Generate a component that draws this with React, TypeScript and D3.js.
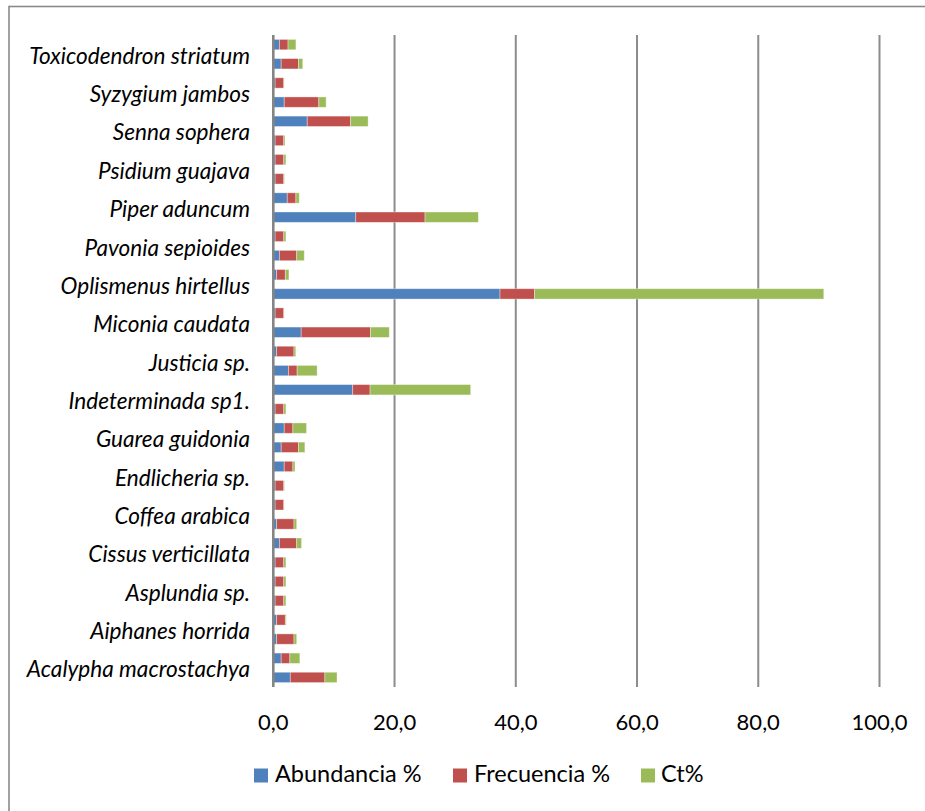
import React from "react";
import * as d3 from "d3";

// Categories bottom -> top (Excel order); only every other one is labelled
const categories: string[] = [
  "Acalypha macrostachya", "", "Aiphanes horrida", "", "Asplundia sp.", "",
  "Cissus verticillata", "", "Coffea arabica", "", "Endlicheria sp.", "",
  "Guarea guidonia", "", "Indeterminada sp1.", "", "Justicia sp.", "",
  "Miconia caudata", "", "Oplismenus hirtellus", "", "Pavonia sepioides", "",
  "Piper aduncum", "", "Psidium guajava", "", "Senna sophera", "",
  "Syzygium jambos", "", "Toxicodendron striatum", "",
];

const abundancia: number[] = [
  2.8, 1.3, 0.55, 0.55, 0.3, 0.3, 0.3, 1.0, 0.55, 0.3, 0.3, 1.8,
  1.3, 1.8, 0.3, 13.1, 2.5, 0.55, 4.6, 0.3, 37.4, 0.55, 1.0, 0.3,
  13.6, 2.3, 0.3, 0.3, 0.3, 5.6, 1.8, 0.3, 1.3, 1.0,
];
const frecuencia: number[] = [
  5.71, 1.43, 2.86, 1.43, 1.43, 1.43, 1.43, 2.86, 2.86, 1.43, 1.43, 1.43,
  2.86, 1.43, 1.43, 2.86, 1.43, 2.86, 11.43, 1.43, 5.71, 1.43, 2.86, 1.43,
  11.43, 1.43, 1.43, 1.43, 1.43, 7.14, 5.71, 1.43, 2.86, 1.43,
];
const ct: number[] = [
  2.0, 1.65, 0.45, 0.15, 0.35, 0.35, 0.35, 0.8, 0.45, 0.05, 0.1, 0.35,
  1.05, 2.25, 0.35, 16.6, 3.3, 0.3, 3.1, 0.05, 47.7, 0.6, 1.25, 0.35,
  8.8, 0.55, 0.1, 0.35, 0.2, 2.9, 1.2, 0.05, 0.7, 1.3,
];

const seriesNames: string[] = ["Abundancia %", "Frecuencia %", "Ct%"];
const seriesColors: string[] = ["#4F81BD", "#C0504D", "#9BBB59"];
const xTicks: number[] = [0, 20, 40, 60, 80, 100];

const W = 925;
const H = 811;
const plotLeft = 273.3;
const plotRight = 879.5;
const plotTop = 35;
const plotBottom = 687;

export default function App() {
  const x = d3.scaleLinear().domain([0, 100]).range([plotLeft, plotRight]);
  const idx = categories.map((_, i) => String(i));
  const y = d3
    .scaleBand<string>()
    .domain(idx.slice().reverse())
    .range([plotTop, plotBottom])
    .paddingInner(0.46)
    .paddingOuter(0.23);

  const rows = categories.map((c, i) => ({
    key: String(i),
    a: abundancia[i],
    f: frecuencia[i],
    c: ct[i],
  }));
  const stack = d3.stack<any>().keys(["a", "f", "c"])(rows);
  const fmt = (v: number) => d3.format(".1f")(v).replace(".", ",");
  const bandCenter = (k: string) => (y(k) as number) + y.bandwidth() / 2;

  const legendItems = [
    { sx: 254, tx: 275 },
    { sx: 453, tx: 474 },
    { sx: 641, tx: 661 },
  ];

  return (
    <svg
      width={W}
      height={H}
      style={{ position: "absolute", left: 0, top: 0, display: "block", background: "#fff" }}
      fontFamily="Lato, 'Open Sans', sans-serif"
    >
      <rect x={0} y={0} width={W} height={H} fill="#fff" />
      <rect x={9} y={6.5} width={W + 50} height={H + 50} fill="none" stroke="#8a8a8a" strokeWidth={1.6} />

      {/* gridlines */}
      {xTicks.slice(1).map((t) => (
        <line key={t} x1={x(t)} x2={x(t)} y1={plotTop} y2={plotBottom} stroke="#8c8c8c" strokeWidth={2} />
      ))}

      {/* bars */}
      {stack.map((s, si) => (
        <g key={si} fill={seriesColors[si]}>
          {s.map((d: any, i: number) => (
            <rect
              key={i}
              x={x(d[0])}
              y={y(d.data.key)}
              width={Math.max(0, x(d[1]) - x(d[0]))}
              height={y.bandwidth()}
              stroke="#ffffff"
              strokeOpacity={0.45}
              strokeWidth={0.8}
            />
          ))}
        </g>
      ))}

      {/* axis line */}
      <line x1={plotLeft} x2={plotLeft} y1={plotTop} y2={plotBottom} stroke="#858585" strokeWidth={2.6} />

      {/* category labels */}
      {categories.map((c, i) =>
        c ? (
          <text
            key={i}
            x={250}
            y={bandCenter(String(i))}
            textAnchor="end"
            fontStyle="italic"
            fontSize={22.6}
            fill="#000"
          >
            {c}
          </text>
        ) : null
      )}

      {/* x tick labels */}
      {xTicks.map((t) => (
        <text key={t} x={x(t)} y={730} textAnchor="middle" fontSize={22} fill="#000">
          {fmt(t)}
        </text>
      ))}

      {/* legend */}
      {seriesNames.map((n, i) => (
        <g key={n}>
          <rect x={legendItems[i].sx} y={768.5} width={14} height={14} fill={seriesColors[i]} />
          <text x={legendItems[i].tx} y={782} fontSize={23.5} fill="#000">
            {n}
          </text>
        </g>
      ))}
    </svg>
  );
}
